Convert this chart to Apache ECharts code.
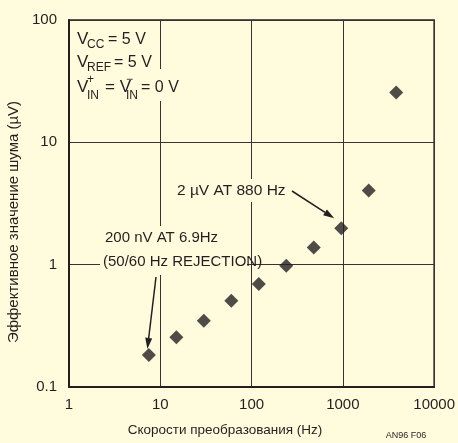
<!DOCTYPE html>
<html>
<head>
<meta charset="utf-8">
<script src="https://cdn.jsdelivr.net/npm/echarts@6/dist/echarts.min.js"></script>
<style>
html,body{margin:0;padding:0;background:#fffbdc;}
#chart{width:458px;height:443px;}
</style>
</head>
<body>
<div id="chart"></div>
<script>
// скорость преобразования (Hz) и шум (uV)
var rates = [7.5, 15, 30, 60, 120, 240, 480, 960, 1920, 3840];
var noise = [0.183, 0.255, 0.348, 0.508, 0.695, 0.98, 1.38, 1.98, 4.03, 25.6];
var xTicks = ['1', '10', '100', '1000', '10000'];
var yTicks = ['0.1', '1', '10', '100'];

var ink = '#231f20';
var bg = '#fffbdc';
var font = "'Liberation Sans', Arial, sans-serif";

var chart = echarts.init(document.getElementById('chart'));

var option = {
	backgroundColor: bg,
	animation: false,
	grid: {
		left: 69,
		right: 22,
		top: 20,
		bottom: 56,
		show: true,
		borderColor: ink,
		borderWidth: 1.5
	},
	xAxis: {
		type: 'log',
		logBase: 10,
		min: 1,
		max: 10000,
		axisLine: { show: true, lineStyle: { color: ink, width: 2 } },
		axisTick: { show: false },
		splitLine: { show: true, lineStyle: { color: '#333', width: 1 } },
		axisLabel: {
			color: ink,
			fontSize: 15,
			fontFamily: font,
			margin: 10,
			formatter: function(v) {
				var i = Math.round(Math.log10(v));
				return xTicks[i];
			}
		}
	},
	yAxis: {
		type: 'log',
		logBase: 10,
		min: 0.1,
		max: 100,
		axisLine: { show: true, lineStyle: { color: ink, width: 2 } },
		axisTick: { show: false },
		splitLine: { show: true, lineStyle: { color: '#333', width: 1 } },
		axisLabel: {
			color: ink,
			fontSize: 15,
			fontFamily: font,
			margin: 12,
			formatter: function(v) {
				var i = Math.round(Math.log10(v)) + 1;
				return yTicks[i];
			}
		}
	},
	series: [{
		type: 'scatter',
		symbol: 'diamond',
		symbolSize: 14,
		itemStyle: { color: ink },
		data: rates.map(function(r, i) {
			return [r, noise[i]];
		}),
		z: 5
	}]
};
chart.setOption(option);

// текст: baseline -> middle
function txt(s, x, base, fs, extra) {
	var st = {
		text: s,
		x: x,
		y: base - fs * 0.35,
		fill: ink,
		fontSize: fs,
		fontFamily: font,
		align: 'left',
		verticalAlign: 'middle'
	};
	if (extra) {
		for (var k in extra) st[k] = extra[k];
	}
	return { type: 'text', z: 20, style: st };
}
function box(x, y, w, h) {
	return { type: 'rect', z: 15, shape: { x: x, y: y, width: w, height: h }, style: { fill: bg } };
}
function arrow(x1, y1, x2, y2) {
	var a = Math.atan2(y2 - y1, x2 - x1);
	var len = 11, hw = 3.5;
	var bx = x2 - len * Math.cos(a), by = y2 - len * Math.sin(a);
	var px = -Math.sin(a) * hw, py = Math.cos(a) * hw;
	return [{
		type: 'line', z: 20,
		shape: { x1: x1, y1: y1, x2: bx, y2: by },
		style: { stroke: ink, lineWidth: 1.5 }
	}, {
		type: 'polygon', z: 20,
		shape: { points: [[x2, y2], [bx + px, by + py], [bx - px, by - py]] },
		style: { fill: ink }
	}];
}

var p1 = chart.convertToPixel({ seriesIndex: 0 }, [rates[0], noise[0]]);
var p8 = chart.convertToPixel({ seriesIndex: 0 }, [rates[7], noise[7]]);

var g = [
	box(75, 69, 105, 32),
	box(172, 179, 118, 23),
	box(100, 226, 147, 49),
	// Vcc, Vref, Vin
	txt('V', 77, 45, 17),
	txt('CC', 87, 48.5, 12),
	txt('= 5 V', 108, 45, 16),
	txt('V', 77, 68.5, 17),
	txt('REF', 87, 72, 12),
	txt('= 5 V', 114, 68.5, 16),
	txt('V', 77, 93, 17),
	txt('+', 87, 84, 12),
	txt('IN', 87, 100, 12),
	txt('= V', 105, 93, 17),
	txt('\u2212', 126, 84, 12),
	txt('IN', 126, 100, 12),
	txt('= 0 V', 141, 93, 16),
	// аннотации
	txt('2 \u00b5V AT 880 Hz', 177, 196, 15.5),
	txt('200 nV AT 6.9Hz', 105, 243, 15),
	txt('(50/60 Hz REJECTION)', 103, 267, 15),
	// подписи осей
	{
		type: 'text', z: 20,
		style: { text: 'Скорости преобразования (Hz)', x: 225, y: 430, fill: ink, fontSize: 13.5, fontFamily: font, align: 'center', verticalAlign: 'middle' }
	},
	{
		type: 'text', z: 20, x: 14, y: 222, rotation: Math.PI / 2,
		style: { text: 'Эффективное значение шума (\u00b5V)', x: 0, y: 0, fill: ink, fontSize: 15, fontFamily: font, align: 'center', verticalAlign: 'middle' }
	},
	{
		type: 'text', z: 20,
		style: { text: 'AN96 F06', x: 406, y: 436, fill: ink, fontSize: 9, fontFamily: font, align: 'center', verticalAlign: 'middle' }
	}
];
g = g.concat(arrow(292, 191, p8[0] - 7, p8[1] - 10));
g = g.concat(arrow(156, 277, p1[0] - 1.5, p1[1] - 6));

chart.setOption({ graphic: g });
</script>
</body>
</html>
